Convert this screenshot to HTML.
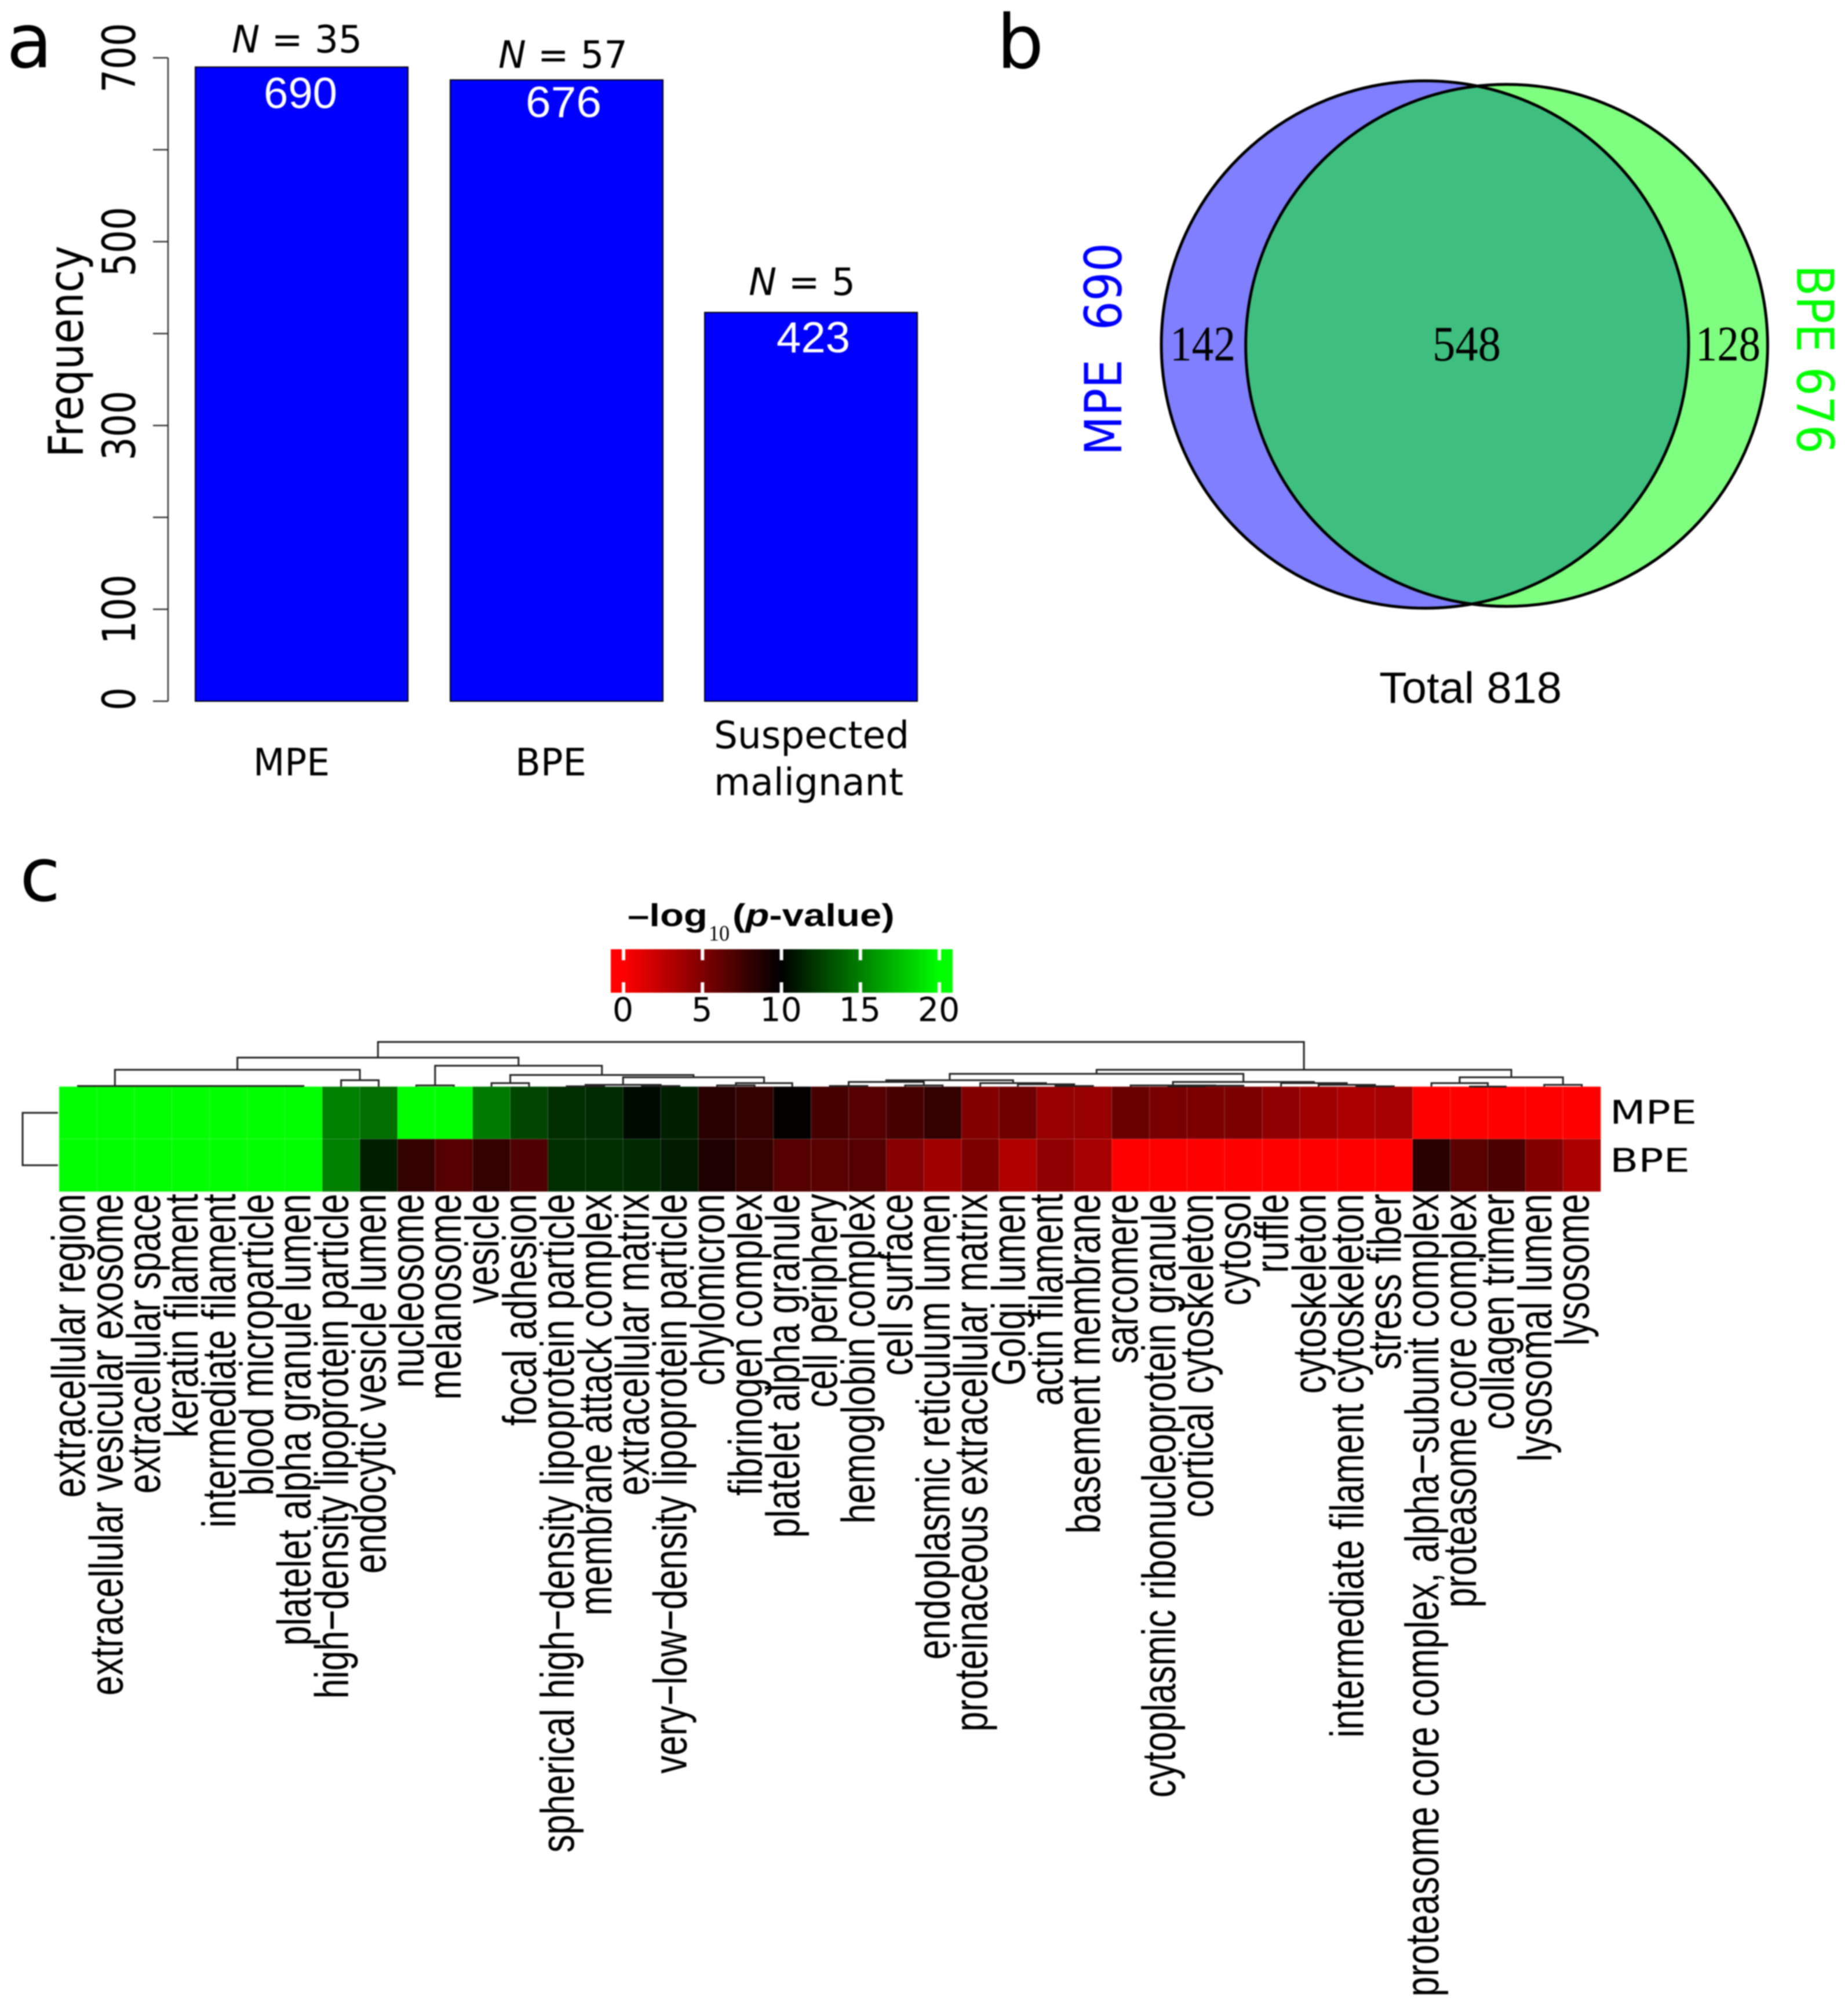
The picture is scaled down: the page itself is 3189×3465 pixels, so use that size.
<!DOCTYPE html>
<html lang="en">
<head>
<meta charset="utf-8">
<title>MPE and BPE protein frequency, overlap and GO enrichment</title>
<style>
  html, body { margin: 0; padding: 0; background: #fff; }
  svg { display: block; filter: blur(1px); }
  text { fill: #000; }
</style>
</head>
<body>
<svg id="fig" xmlns="http://www.w3.org/2000/svg" width="3189" height="3465" viewBox="0 0 3189 3465">
  <rect x="0" y="0" width="3189" height="3465" fill="#ffffff"/>
  <text x="11" y="116" font-family="'DejaVu Sans', sans-serif" font-size="130">a</text>
  <text x="1720" y="117" font-family="'DejaVu Sans', sans-serif" font-size="128">b</text>
  <text x="34" y="1554" font-family="'DejaVu Sans', sans-serif" font-size="128">c</text>
  <g id="panelA"></g>
  <g id="panelB"></g>
  <g id="panelC"></g>
  <g>
    <g transform="translate(1083,1598) scale(1.22,1)">
      <text x="0" y="0" font-family="'Liberation Sans', sans-serif" font-size="55" font-weight="bold">–log</text>
    </g>
    <text x="1223" y="1623" font-family="'Liberation Serif', serif" font-size="38" textLength="36" lengthAdjust="spacingAndGlyphs">10</text>
    <g transform="translate(1264,1598) scale(1.22,1)">
      <text x="0" y="0" font-family="'Liberation Sans', sans-serif" font-size="55" font-weight="bold">(<tspan font-style="italic">p</tspan>-value)</text>
    </g>
  </g>
</svg>
<script>
// ---- Panel a data ----
const barCategories = ['MPE', 'BPE', 'Suspected malignant'];
const barValues = [690, 676, 423];
const barSampleSizes = [35, 57, 5];
const freqTicks = [0, 100, 200, 300, 400, 500, 600, 700];
const freqTickLabels = ['0', '100', '', '300', '', '500', '', '700'];

// ---- Panel b data ----
const vennSets = ['MPE', 'BPE'];
const vennTotals = [690, 676];
const vennOnlyA = 142;
const vennShared = 548;
const vennOnlyB = 128;
const vennUnion = 818;

// ---- Panel c data ----
const goTerms = ['extracellular region','extracellular vesicular exosome','extracellular space','keratin filament','intermediate filament','blood microparticle','platelet alpha granule lumen','high−density lipoprotein particle','endocytic vesicle lumen','nucleosome','melanosome','vesicle','focal adhesion','spherical high−density lipoprotein particle','membrane attack complex','extracellular matrix','very−low−density lipoprotein particle','chylomicron','fibrinogen complex','platelet alpha granule','cell periphery','hemoglobin complex','cell surface','endoplasmic reticulum lumen','proteinaceous extracellular matrix','Golgi lumen','actin filament','basement membrane','sarcomere','cytoplasmic ribonucleoprotein granule','cortical cytoskeleton','cytosol','ruffle','cytoskeleton','intermediate filament cytoskeleton','stress fiber','proteasome core complex, alpha−subunit complex','proteasome core complex','collagen trimer','lysosomal lumen','lysosome'];
const heatRows = ['MPE', 'BPE'];
const mpeValues = [20,20,20,20,20,20,20,15,14.3,20,20,14.8,12.7,11.8,11.7,10.4,11.2,8.4,8.0,9.8,7.3,6.7,7.3,8.0,4.9,5.7,4.1,4.1,5.9,5.3,5.1,5.1,4.3,3.7,3.3,3.5,0,0,0,0,0];
const bpeValues = [20,20,20,20,20,20,20,15,11.2,8.0,6.7,8.0,6.9,11.8,11.8,11.6,11.0,8.8,8.0,6.7,6.5,6.7,4.7,3.7,5.1,3.1,4.3,3.5,0,0,0,0,0,0,0,0,8.4,6.5,7.1,4.9,3.3];
const colorbarTicks = [0, 5, 10, 15, 20];
// Column dendrogram: [height, left, right]; an integer child is a column index.
const columnTree = [77,
  [50,
    [29,
      [1,0,[1,1,[1,2,[1,3,[1,4,[1,5,6]]]]]],
      [11,7,8]],
    [36,
      [2,9,10],
      [20,
        [6,11,12],
        [16,
          [3,[0.5,13,14],[1,15,16]],
          [6,[2,17,18],19]]]]],
  [29,
    [22,
      [11,
        [8,[1,20,21],[2,22,23]],
        [6,24,[4,25,[1,26,27]]]],
      [8,
        [2,28,[1.5,[0.5,29,30],31]],
        [6,32,[3,33,[0.5,34,35]]]]],
    [16,
      [6,36,[0,37,38]],
      [3,39,40]]]];

const NS = 'http://www.w3.org/2000/svg';
const DEJAVU = "'DejaVu Sans', sans-serif";
const LIB = "'Liberation Sans', sans-serif";
const SERIF = "'Liberation Serif', serif";

function mk(parent, tag, attrs, content) {
  const el = document.createElementNS(NS, tag);
  for (const k in attrs) el.setAttribute(k, attrs[k]);
  if (content !== undefined) el.textContent = content;
  parent.appendChild(el);
  return el;
}
function fit(parent, content, x, y, family, size, len, extra) {
  const attrs = { x: x, y: y, 'font-family': family, 'font-size': size };
  if (len) { attrs.textLength = len; attrs.lengthAdjust = 'spacingAndGlyphs'; }
  for (const k in (extra || {})) attrs[k] = extra[k];
  return mk(parent, 'text', attrs, content);
}

// ================= Panel a =================
(function () {
  const g = document.getElementById('panelA');
  const yFreq = v => 1210 - v * 1.586;
  const barLeft = [337, 777, 1216];
  const barW = 367;
  const axis = mk(g, 'line', { x1: 290, x2: 290, y1: yFreq(0), y2: yFreq(700), stroke: '#333', 'stroke-width': 2.5 });
  
  
  freqTicks.forEach((t, i) => {
    const tick = mk(g, 'line', { x1: 264, x2: 290, y1: yFreq(t), y2: yFreq(t), stroke: '#333', 'stroke-width': 2.5 });
    
    
    const s = freqTickLabels[i];
    if (s) {
      const len = s.length * 40;
      const yy = yFreq(t) + len / 2 - (s.length === 1 ? 4 : 0);
      const lab = fit(g, s, 233, yy, DEJAVU, 78, len, { transform: 'rotate(-90 233 ' + yy + ')' });
      
      
    }
  });
  const yTitle = fit(g, 'Frequency', 143, 789, DEJAVU, 83, 365, { transform: 'rotate(-90 143 789)' });
  
  

  const valueX = [455, 907, 1340];
  const valueLen = [127, 131, 127];
  const valueDrop = [71, 64, 69];
  const nX = [400, 860, 1292];
  const nLen = [225, 223, 184];
  const nLift = [25, 21, 30];
  barValues.forEach((v, i) => {
    const r = mk(g, 'rect', { x: barLeft[i], y: yFreq(v), width: barW, height: yFreq(0) - yFreq(v), fill: '#0000ff', stroke: '#000', 'stroke-width': 2 });
    
    
    const val = fit(g, String(v), valueX[i], yFreq(v) + valueDrop[i], LIB, 75, valueLen[i], { style: 'fill:#fff' });
    
    
    const n = mk(g, 'text', { x: nX[i], y: yFreq(v) - nLift[i], 'font-family': DEJAVU, 'font-size': 65, textLength: nLen[i], lengthAdjust: 'spacingAndGlyphs' });
    const nItalic = mk(n, 'tspan', { 'font-style': 'italic' }, 'N');
    
    
    const nRest = mk(n, 'tspan', {}, ' = ' + barSampleSizes[i]);
    
    
    
    
  });
  const cat1 = fit(g, barCategories[0], 437, 1338, DEJAVU, 65, 132);
  
  
  const cat2 = fit(g, barCategories[1], 889, 1338, DEJAVU, 65, 123);
  
  
  const words = barCategories[2].split(' ');
  const cat3a = fit(g, words[0], 1232, 1291, DEJAVU, 65, 337);
  
  
  const cat3b = fit(g, words[1], 1232, 1372, DEJAVU, 65, 327);
  
  
})();

// ================= Panel b =================
(function () {
  const g = document.getElementById('panelB');
  const radius = n => Math.sqrt(n) * 17.32;
  const cx = [2459, 2600];
  const cy = [594.5, 596];
  const colors = ['rgba(0,0,255,0.5)', 'rgba(0,255,0,0.5)'];
  vennTotals.forEach((n, i) => {
    const c = mk(g, 'circle', { cx: cx[i], cy: cy[i], r: radius(n), fill: colors[i] });
    
    
  });
  vennTotals.forEach((n, i) => {
    const c = mk(g, 'circle', { cx: cx[i], cy: cy[i], r: radius(n), fill: 'none', stroke: '#000', 'stroke-width': 5 });
    
    
  });
  const t1 = fit(g, String(vennOnlyA), 2019, 622, SERIF, 86, 113);
  
  
  const t2 = fit(g, String(vennShared), 2472, 622, SERIF, 86, 118);
  
  
  const t3 = fit(g, String(vennOnlyB), 2926, 622, SERIF, 86, 112);
  
  
  const a = fit(g, vennSets[0] + '\u00a0\u00a0' + vennTotals[0], 1935, 786, DEJAVU, 88, 367, { transform: 'rotate(-90 1935 786)', style: 'fill:#0000ff' });
  
  
  const b = fit(g, vennSets[1] + ' ' + vennTotals[1], 3101, 457, DEJAVU, 88, 326, { transform: 'rotate(90 3101 457)', style: 'fill:#00ff00' });
  
  
  const total = fit(g, 'Total ' + vennUnion, 2380, 1213, LIB, 76, 315);
  
  
})();

// ================= Panel c =================
(function () {
  const g = document.getElementById('panelC');
  const svg = document.getElementById('fig');
  const X0 = 102, CW = 64.88, Y0 = 1875, RH = 90.5;
  const colX = i => X0 + i * CW;
  const heatColor = v => v <= 10
    ? 'rgb(' + Math.round(255 * (10 - v) / 10) + ',0,0)'
    : 'rgb(0,' + Math.round(255 * (v - 10) / 10) + ',0)';
  const rowValues = [mpeValues, bpeValues];

  rowValues.forEach((vals, r) => {
    vals.forEach((v, c) => {
      const cell = mk(g, 'rect', { x: colX(c), y: Y0 + r * RH, width: CW + 0.3, height: RH + 0.3, fill: heatColor(v), stroke: 'rgba(255,255,255,0.13)', 'stroke-width': 1.5 });
      
      
    });
  });

  // Column labels
  goTerms.forEach((term, i) => {
    const bx = colX(i) + CW / 2 + 12;
    const lab = mk(g, 'text', { transform: 'translate(' + bx + ',2060) rotate(-90) scale(0.757,1)', 'text-anchor': 'end', 'font-family': LIB, 'font-size': 82 }, term);
    
    
  });

  // Row labels
  const rowBase = [1939, 2022];
  const rowLen = [150, 138];
  heatRows.forEach((name, r) => {
    const lab = fit(g, name, 2778, rowBase[r], DEJAVU, 56, rowLen[r]);
    
    
  });

  // Column dendrogram
  function drawNode(node) {
    if (typeof node === 'number') return { x: colX(node) + CW / 2, y: Y0 };
    const l = drawNode(node[1]);
    const rr = drawNode(node[2]);
    const y = Y0 - node[0];
    const p = mk(g, 'path', { d: 'M' + l.x + ' ' + l.y + 'V' + y + 'H' + rr.x + 'V' + rr.y, fill: 'none', stroke: '#222', 'stroke-width': 3 });
    
    
    return { x: (l.x + rr.x) / 2, y: y };
  }
  drawNode(columnTree);

  // Row dendrogram
  const rd = mk(g, 'path', { d: 'M100 ' + (Y0 + RH / 2) + 'H39V' + (Y0 + 1.5 * RH) + 'H100', fill: 'none', stroke: '#222', 'stroke-width': 3 });
  
  

  // Colorbar
  const cbX = v => 1076 + v * 27.25;
  const defs = mk(svg, 'defs', {});
  const grad = mk(defs, 'linearGradient', { id: 'cbGrad', gradientUnits: 'userSpaceOnUse', x1: cbX(0), x2: cbX(20), y1: 0, y2: 0 });
  [0, 10, 20].forEach(v => {
    mk(grad, 'stop', { offset: v / 20, 'stop-color': heatColor(v) });
  });
  const bar = mk(g, 'rect', { x: 1054, y: 1638, width: 590, height: 75, fill: 'url(#cbGrad)' });
  
  
  colorbarTicks.forEach(v => {
    const t1 = mk(g, 'rect', { x: cbX(v) - 3, y: 1638, width: 6, height: 19, fill: '#fff' });
    
    
    const t2 = mk(g, 'rect', { x: cbX(v) - 3, y: 1695, width: 6, height: 18, fill: '#fff' });
    
    
    const lab = mk(g, 'text', { x: cbX(v) - 1, y: 1762, 'text-anchor': 'middle', 'font-family': DEJAVU, 'font-size': 57 }, String(v));
    
    
  });
})();
</script>
</body>
</html>
